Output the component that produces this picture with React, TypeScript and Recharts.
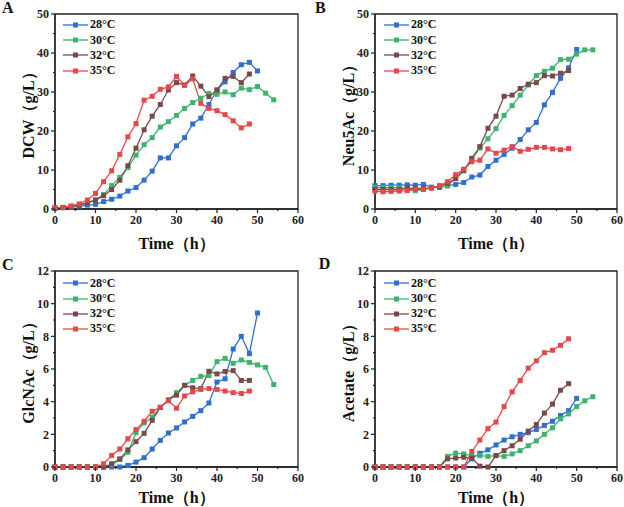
import React from 'react';
import { LineChart, Line, XAxis, YAxis, Legend, ReferenceArea } from 'recharts';

// sampling times (h)
const time = [0, 2, 4, 6, 8, 10, 12, 14, 16, 18, 20, 22, 24, 26, 28, 30, 32, 34, 36, 38, 40, 42, 44, 46, 48, 50, 52, 54];

const seriesNames = ['28°C', '30°C', '32°C', '35°C'];
const seriesColors = ['#2f6fd2', '#3db46e', '#7a4a4a', '#e6474a'];

const xTicks = [0, 5, 10, 15, 20, 25, 30, 35, 40, 45, 50, 55, 60];
const yTicks50 = [0, 5, 10, 15, 20, 25, 30, 35, 40, 45, 50];
const yTicks12 = [0, 1, 2, 3, 4, 5, 6, 7, 8, 9, 10, 11, 12];

// A: DCW (g/L)
const dcw28 = [0.2, 0.3, 0.5, 0.7, 1.0, 1.2, 1.9, 2.5, 3.3, 4.6, 5.5, 7.4, 9.7, 13.1, 13.1, 16.2, 18.3, 21.8, 23.3, 26.8, 30.5, 32.6, 35.0, 37.0, 37.6, 35.4];
const dcw30 = [0.2, 0.4, 0.6, 1.0, 1.6, 2.4, 3.7, 6.0, 8.1, 10.6, 13.8, 16.5, 18.3, 21.0, 22.4, 24.0, 25.8, 27.3, 28.4, 29.6, 29.4, 30.0, 29.3, 31.0, 30.6, 31.4, 29.7, 28.0];
const dcw32 = [0.2, 0.4, 0.6, 1.0, 1.6, 2.2, 3.4, 5.0, 7.4, 11.1, 15.6, 20.3, 23.8, 26.8, 30.5, 32.4, 31.8, 34.1, 31.5, 28.8, 30.5, 33.5, 34.0, 32.4, 34.6];
const dcw35 = [0.3, 0.4, 0.8, 1.3, 2.3, 4.0, 7.0, 9.8, 14.0, 18.5, 21.9, 27.9, 28.9, 30.7, 31.3, 34.0, 31.7, 33.4, 27.1, 25.8, 25.2, 24.2, 22.6, 20.8, 21.8];

// B: Neu5Ac (g/L)
const neu28 = [6.0, 6.0, 6.1, 6.1, 6.2, 6.1, 6.3, 5.6, 5.5, 6.0, 6.3, 6.8, 8.2, 8.7, 10.9, 12.5, 14.0, 15.6, 17.8, 20.3, 22.2, 26.7, 29.9, 33.5, 36.2, 40.9];
const neu30 = [5.5, 5.5, 5.5, 5.5, 5.2, 4.7, 5.0, 5.4, 5.7, 5.9, 7.9, 10.0, 12.8, 15.6, 18.0, 20.6, 24.0, 26.5, 29.2, 31.8, 34.2, 35.3, 36.1, 38.3, 38.4, 39.7, 40.8, 40.8];
const neu32 = [5.0, 5.0, 5.0, 5.0, 5.3, 5.3, 5.3, 5.4, 5.8, 6.6, 7.8, 9.8, 13.0, 16.0, 20.7, 23.8, 28.9, 29.2, 30.9, 32.0, 32.4, 34.2, 34.1, 34.8, 35.5];
const neu35 = [4.6, 4.4, 4.5, 4.6, 4.7, 5.0, 5.0, 5.4, 6.0, 7.0, 8.8, 10.2, 12.1, 12.5, 15.4, 14.3, 15.1, 16.0, 14.8, 15.3, 15.8, 15.8, 15.4, 15.2, 15.5];

// C: GlcNAc (g/L)
const glc28 = [0, 0, 0, 0, 0, 0, 0, 0, 0, 0.1, 0.3, 0.57, 1.1, 1.63, 2.08, 2.39, 2.76, 3.1, 3.45, 3.92, 5.2, 5.4, 7.22, 8.0, 6.94, 9.43];
const glc30 = [0, 0, 0, 0, 0, 0, 0, 0.15, 0.45, 0.9, 2.1, 2.7, 3.05, 3.65, 4.1, 4.55, 5.0, 5.3, 5.55, 5.6, 6.45, 6.65, 6.35, 6.55, 6.4, 6.25, 6.1, 5.05];
const glc32 = [0, 0, 0, 0, 0, 0, 0, 0.2, 0.5, 1.05, 1.55, 2.06, 2.86, 3.65, 4.1, 4.4, 5.0, 4.85, 4.8, 5.86, 5.7, 5.85, 5.9, 5.3, 5.3];
const glc35 = [0, 0, 0, 0, 0, 0, 0.2, 0.71, 1.1, 1.73, 2.29, 2.8, 3.41, 3.65, 4.05, 3.6, 4.35, 4.6, 4.75, 4.8, 4.75, 4.65, 4.55, 4.5, 4.65];

// D: Acetate (g/L)
const ace28 = [0, 0, 0, 0, 0, 0, 0, 0, 0, 0, 0, 0, 0.5, 0.84, 1.05, 1.35, 1.65, 1.85, 2.0, 2.1, 2.3, 2.55, 2.8, 3.15, 3.45, 4.2];
const ace30 = [0, 0, 0, 0, 0, 0, 0, 0, 0, 0.65, 0.85, 0.8, 0.7, 0.7, 0.65, 0.7, 0.65, 0.8, 1.0, 1.3, 1.6, 2.0, 2.4, 2.95, 3.25, 3.7, 4.05, 4.3];
const ace32 = [0, 0, 0, 0, 0, 0, 0, 0, 0, 0.5, 0.55, 0.6, 0.55, 0.05, 0.0, 0.7, 1.0, 1.3, 1.7, 2.2, 2.6, 3.3, 3.85, 4.7, 5.1];
const ace35 = [0, 0, 0, 0, 0, 0, 0, 0, 0, 0, 0, 0, 0.95, 1.65, 2.35, 2.75, 3.7, 4.6, 5.3, 6.05, 6.5, 7.0, 7.15, 7.45, 7.85];

const FONT = '"Liberation Serif", "Times New Roman", serif';
const AXIS = '#222';

function buildRows(series: number[][]) {
  return time.map((t, i) => {
    const row: any = { t };
    series.forEach((arr, k) => {
      if (i < arr.length) row['s' + k] = arr[i];
    });
    return row;
  });
}

const YTick = (props: any) => {
  const { x, y, payload, major } = props;
  const isMajor = payload.value % major === 0;
  return (
    <g>
      <line x1={x} x2={x - (isMajor ? 4 : 2)} y1={y} y2={y} stroke={AXIS} strokeWidth={1.2} />
      {isMajor && (
        <text x={x - 6} y={y} dy="0.35em" textAnchor="end" fontFamily={FONT} fontWeight="bold" fontSize={12} fill={AXIS}>
          {payload.value}
        </text>
      )}
    </g>
  );
};

const XTick = (props: any) => {
  const { x, y, payload } = props;
  const isMajor = payload.value % 10 === 0;
  return (
    <g>
      <line x1={x} x2={x} y1={y} y2={y + (isMajor ? 4 : 2)} stroke={AXIS} strokeWidth={1.2} />
      {isMajor && (
        <text x={x} y={y + 6} dy="0.71em" textAnchor="middle" fontFamily={FONT} fontWeight="bold" fontSize={12} fill={AXIS}>
          {payload.value}
        </text>
      )}
    </g>
  );
};

const YTitle = (props: any) => {
  const { viewBox, text } = props;
  const cx = viewBox.x + viewBox.width - 27;
  const cy = viewBox.y + viewBox.height / 2;
  return (
    <text
      x={cx}
      y={cy}
      transform={`rotate(-90 ${cx} ${cy})`}
      textAnchor="middle"
      dominantBaseline="central"
      fontFamily={FONT}
      fontWeight="bold"
      fontSize={16}
      fill="#111"
    >
      {text}
    </text>
  );
};

const XTitle = (props: any) => {
  const { viewBox, gap } = props;
  return (
    <text
      x={viewBox.x + viewBox.width / 2}
      y={viewBox.y + gap}
      textAnchor="middle"
      dominantBaseline="central"
      fontFamily={FONT}
      fontWeight="bold"
      fontSize={16}
      fill="#111"
    >
      Time（h）
    </text>
  );
};

const LegendBox = () => (
  <div>
    {seriesNames.map((name, i) => (
      <div key={name} style={{ display: 'flex', alignItems: 'center', height: 15.2 }}>
        <svg width={26} height={8} style={{ display: 'block' }}>
          <line x1={0} x2={25} y1={4} y2={4} stroke={seriesColors[i]} strokeWidth={1.3} />
          <rect x={10} y={1.5} width={5} height={5} fill={seriesColors[i]} />
        </svg>
        <span style={{ fontFamily: FONT, fontWeight: 'bold', fontSize: 12, color: '#111', marginLeft: 1, lineHeight: '15px' }}>
          {name}
        </span>
      </div>
    ))}
  </div>
);

const squareDot = (color: string) => (p: any) => {
  if (p.cx == null || p.cy == null) return <g key={p.key ?? p.index} />;
  return <rect key={p.key ?? p.index} x={p.cx - 2.5} y={p.cy - 2.5} width={5} height={5} fill={color} />;
};

type PanelProps = {
  left: number;
  top: number;
  height: number;
  yWidth: number;
  marginRight: number;
  marginTop: number;
  xHeight: number;
  titleGap: number;
  series: number[][];
  yMax: number;
  yTicks: number[];
  yMajor: number;
  yTitle: string;
  letter: string;
  letterLeft: number;
  letterTop: number;
  legendLeft: number;
  legendTop: number;
};

const Panel = (p: PanelProps) => {
  const rows = buildRows(p.series);
  return (
    <div style={{ position: 'absolute', left: p.left, top: p.top, width: 312, height: p.height }}>
      <LineChart width={312} height={p.height} data={rows} margin={{ top: p.marginTop, right: p.marginRight, bottom: 0, left: 0 }}>
        <XAxis
          dataKey="t"
          type="number"
          domain={[0, 60]}
          ticks={xTicks}
          interval={0}
          height={p.xHeight}
          tickLine={false}
          tickSize={0}
          tickMargin={0}
          axisLine={{ stroke: AXIS, strokeWidth: 1.3 }}
          tick={(tp: any) => <XTick {...tp} />}
          label={<XTitle gap={p.titleGap} />}
        />
        <YAxis
          type="number"
          domain={[0, p.yMax]}
          ticks={p.yTicks}
          interval={0}
          width={p.yWidth}
          tickLine={false}
          tickSize={0}
          tickMargin={0}
          axisLine={{ stroke: AXIS, strokeWidth: 1.3 }}
          tick={(tp: any) => <YTick {...tp} major={p.yMajor} />}
          label={<YTitle text={p.yTitle} />}
        />
        <ReferenceArea x1={0} x2={60} y1={0} y2={p.yMax} fill="none" stroke={AXIS} strokeWidth={1.3} />
        {/* vertical + centred so the legend reserves no room in the plot */}
        <Legend
          layout="vertical"
          align="center"
          verticalAlign="middle"
          content={() => <LegendBox />}
          wrapperStyle={{ position: 'absolute', left: p.legendLeft, top: p.legendTop, width: 'auto', bottom: 'auto', right: 'auto' }}
        />
        {seriesNames.map((name, i) => (
          <Line
            key={name}
            dataKey={'s' + i}
            name={name}
            stroke={seriesColors[i]}
            strokeWidth={1.3}
            dot={squareDot(seriesColors[i])}
            activeDot={false}
            isAnimationActive={false}
          />
        ))}
      </LineChart>
      <div
        style={{
          position: 'absolute',
          left: p.letterLeft,
          top: p.letterTop,
          fontFamily: FONT,
          fontWeight: 'bold',
          fontSize: 16,
          lineHeight: '16px',
          color: '#111',
        }}
      >
        {p.letter}
      </div>
    </div>
  );
};

export default function App() {
  return (
    <div style={{ position: 'absolute', left: 0, top: 0, width: 624, height: 507, background: '#fff' }}>
      <Panel
        left={0} top={0} height={253} yWidth={55} marginRight={14} marginTop={14} xHeight={44} titleGap={34}
        series={[dcw28, dcw30, dcw32, dcw35]} yMax={50} yTicks={yTicks50} yMajor={10}
        yTitle="DCW（g/L）" letter="A" letterLeft={2} letterTop={0} legendLeft={63} legendTop={17.4}
      />
      <Panel
        left={312} top={0} height={253} yWidth={63} marginRight={7} marginTop={14} xHeight={44} titleGap={34}
        series={[neu28, neu30, neu32, neu35]} yMax={50} yTicks={yTicks50} yMajor={10}
        yTitle="Neu5Ac（g/L）" letter="B" letterLeft={3} letterTop={0} legendLeft={72} legendTop={17.4}
      />
      <Panel
        left={0} top={250} height={257} yWidth={55} marginRight={14} marginTop={21} xHeight={40} titleGap={30}
        series={[glc28, glc30, glc32, glc35]} yMax={12} yTicks={yTicks12} yMajor={2}
        yTitle="GlcNAc（g/L）" letter="C" letterLeft={2} letterTop={6.6} legendLeft={63} legendTop={25.8}
      />
      <Panel
        left={312} top={250} height={257} yWidth={63} marginRight={7} marginTop={21} xHeight={40} titleGap={30}
        series={[ace28, ace30, ace32, ace35]} yMax={12} yTicks={yTicks12} yMajor={2}
        yTitle="Acetate（g/L）" letter="D" letterLeft={6.7} letterTop={5.6} legendLeft={72} legendTop={25.8}
      />
    </div>
  );
}
